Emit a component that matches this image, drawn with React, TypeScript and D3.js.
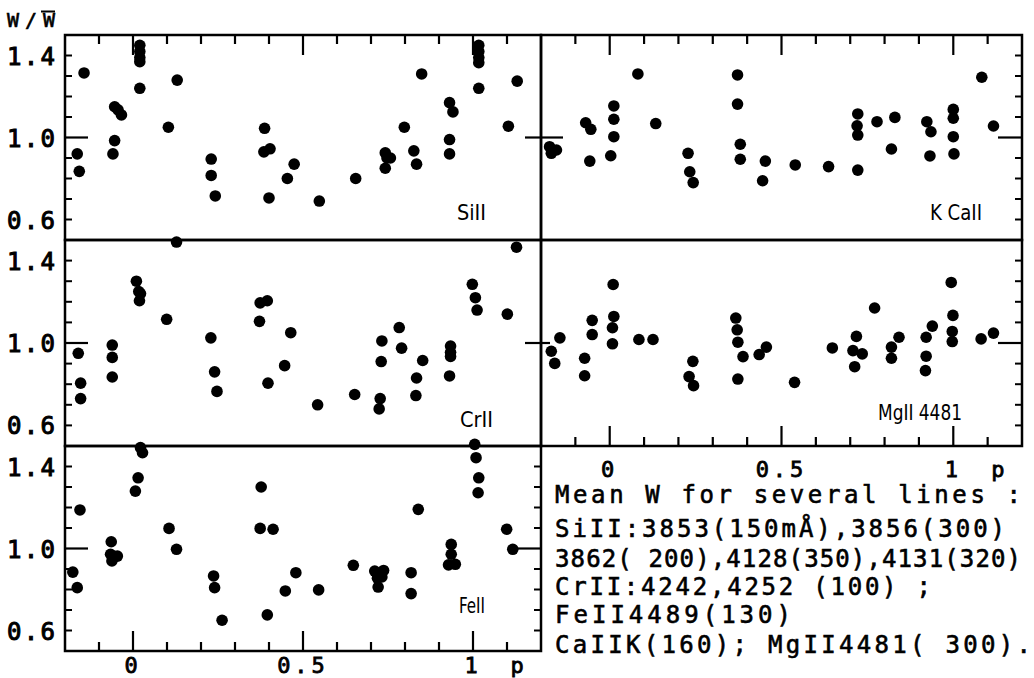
import { useEffect, useRef } from 'react';
import * as d3 from 'd3';

type Pt = [number, number];

// [phase, W / mean W]
const siII: Pt[] = [
  [-0.164, 0.92], [-0.158, 0.835], [-0.144, 1.315], [-0.059, 0.92], [-0.054, 0.985],
  [-0.054, 1.15], [-0.044, 1.135], [-0.034, 1.11], [0.02, 1.45], [0.02, 1.42],
  [0.02, 1.39], [0.02, 1.37], [0.02, 1.24], [0.104, 1.05], [0.13, 1.28],
  [0.23, 0.895], [0.23, 0.815], [0.242, 0.715], [0.387, 1.045], [0.385, 0.93],
  [0.403, 0.945], [0.4, 0.705], [0.454, 0.8], [0.474, 0.87], [0.548, 0.69],
  [0.655, 0.8], [0.742, 0.925], [0.747, 0.9], [0.742, 0.85], [0.757, 0.9],
  [0.798, 1.05], [0.826, 0.935], [0.834, 0.87], [0.849, 1.31], [0.931, 1.17],
  [0.941, 1.125], [0.931, 0.99], [0.931, 0.92], [1.017, 1.45], [1.017, 1.42],
  [1.017, 1.39], [1.017, 1.365], [1.017, 1.24], [1.104, 1.055], [1.13, 1.275],
];

const caIIK: Pt[] = [
  [-0.175, 0.955], [-0.17, 0.923], [-0.155, 0.939], [-0.07, 1.072], [-0.055, 1.04],
  [-0.058, 0.885], [0.012, 1.154], [0.012, 1.089], [0.012, 1.004], [0.003, 0.911],
  [0.082, 1.31], [0.134, 1.068], [0.228, 0.923], [0.233, 0.833], [0.243, 0.78],
  [0.372, 1.305], [0.372, 1.163], [0.38, 0.967], [0.38, 0.894], [0.453, 0.885],
  [0.445, 0.789], [0.54, 0.866], [0.637, 0.858], [0.722, 1.115], [0.72, 1.057],
  [0.722, 1.012], [0.722, 0.841], [0.778, 1.077], [0.83, 1.098], [0.82, 0.944],
  [0.923, 1.077], [0.935, 1.028], [0.932, 0.91], [1.0, 1.137], [1.0, 1.094],
  [1.0, 1.004], [1.002, 0.92], [1.083, 1.294], [1.117, 1.056],
];

const crII: Pt[] = [
  [-0.161, 0.95], [-0.154, 0.805], [-0.154, 0.73], [-0.061, 0.99], [-0.061, 0.93],
  [-0.061, 0.835], [0.01, 1.3], [0.017, 1.25], [0.022, 1.24], [0.019, 1.205],
  [0.128, 1.49], [0.099, 1.115], [0.229, 1.025], [0.24, 0.86], [0.247, 0.765],
  [0.374, 1.195], [0.395, 1.205], [0.372, 1.105], [0.397, 0.805], [0.446, 0.89],
  [0.464, 1.05], [0.543, 0.7], [0.652, 0.75], [0.732, 1.01], [0.73, 0.91],
  [0.727, 0.73], [0.724, 0.68], [0.783, 1.075], [0.79, 0.975], [0.834, 0.83],
  [0.832, 0.745], [0.852, 0.915], [0.934, 0.985], [0.934, 0.955], [0.934, 0.935],
  [0.931, 0.84], [0.998, 1.285], [1.007, 1.22], [1.012, 1.16], [1.101, 1.14],
  [1.128, 1.465],
];

const mgII: Pt[] = [
  [-0.17, 0.96], [-0.16, 0.901], [-0.145, 1.025], [-0.073, 0.926], [-0.073, 0.841],
  [-0.051, 1.11], [-0.051, 1.041], [0.01, 1.284], [0.012, 1.129], [0.008, 1.074],
  [0.008, 0.996], [0.085, 1.017], [0.126, 1.017], [0.242, 0.911], [0.231, 0.837],
  [0.244, 0.793], [0.367, 1.121], [0.371, 1.064], [0.373, 1.004], [0.388, 0.934],
  [0.373, 0.825], [0.435, 0.944], [0.456, 0.98], [0.538, 0.809], [0.648, 0.976],
  [0.718, 1.032], [0.708, 0.963], [0.735, 0.947], [0.713, 0.885], [0.771, 1.17],
  [0.82, 0.98], [0.82, 0.926], [0.842, 1.028], [0.921, 1.028], [0.921, 0.936],
  [0.919, 0.866], [0.939, 1.082], [0.994, 1.294], [0.999, 1.134], [0.997, 1.056],
  [0.997, 1.007], [1.081, 1.02], [1.117, 1.048],
];

const feII: Pt[] = [
  [-0.177, 0.885], [-0.164, 0.809], [-0.156, 1.188], [-0.064, 1.033], [-0.066, 0.972],
  [-0.062, 0.939], [-0.046, 0.963], [0.022, 1.492], [0.028, 1.467], [0.015, 1.345],
  [0.007, 1.28], [0.106, 1.098], [0.128, 0.996], [0.237, 0.866], [0.24, 0.809],
  [0.262, 0.65], [0.377, 1.3], [0.374, 1.098], [0.412, 1.094], [0.395, 0.676],
  [0.448, 0.793], [0.479, 0.882], [0.546, 0.798], [0.648, 0.918], [0.711, 0.89],
  [0.737, 0.893], [0.719, 0.855], [0.721, 0.812], [0.732, 0.861], [0.818, 0.882],
  [0.818, 0.78], [0.839, 1.191], [0.936, 1.02], [0.936, 0.972], [0.928, 0.92],
  [0.948, 0.923], [1.005, 1.508], [1.009, 1.443], [1.017, 1.345], [1.015, 1.272],
  [1.099, 1.094], [1.117, 0.996],
];

const yLabelTicks = [1.4, 1.0, 0.6];
const yMinorTicks = [0.6, 0.7, 0.8, 0.9, 1.1, 1.2, 1.3, 1.4];
const xMinorTicks = [-0.1, 0, 0.1, 0.2, 0.3, 0.4, 0.5, 0.6, 0.7, 0.8, 0.9, 1.0, 1.1];
const xMajorTicks = [0, 0.5, 1];
const xTickLabels = ['0', '0.5', '1'];

const noteLines = [
  'Mean W for several lines :',
  'SiII:3853(150mÅ),3856(300)',
  '3862( 200),4128(350),4131(320)',
  'CrII:4242,4252 (100) ;',
  'FeII4489(130)',
  'CaIIK(160); MgII4481( 300).',
];

const W = 1034;
const H = 678;
const cols = [[65, 541], [541, 1022]];
const rows = [[35, 240], [240, 446], [446, 651]];
const mono = '"DejaVu Sans Mono", "Liberation Mono", monospace';
const narrow = '"Liberation Sans Narrow", "DejaVu Sans Condensed", Roboto, sans-serif';

const panels = [
  { name: 'SiII', points: siII, col: 0, row: 0, lab: { dx: 55, dy: 20, w: 29 } },
  { name: 'K CaII', points: caIIK, col: 1, row: 0, lab: { dx: 40, dy: 20, w: 52 } },
  { name: 'CrII', points: crII, col: 0, row: 1, lab: { dx: 48, dy: 19, w: 33 } },
  { name: 'MgII 4481', points: mgII, col: 1, row: 1, lab: { dx: 60, dy: 26, w: 84 } },
  { name: 'FeII', points: feII, col: 0, row: 2, lab: { dx: 56, dy: 38, w: 26 } },
];

function App() {
  const svgRef = useRef<SVGSVGElement>(null);

  useEffect(() => {
    const svg = d3.select(svgRef.current);
    svg.selectAll('*').remove();

    svg.append('rect').attr('width', W).attr('height', H).attr('fill', '#fff');

    const g = svg.append('g');

    panels.forEach(p => {
      const [x0, x1] = cols[p.col];
      const [y0, y1] = rows[p.row];
      const x = d3.scaleLinear().domain([-0.2, 1.2]).range([x0, x1]);
      const y = d3.scaleLinear().domain([0.5, 1.5]).range([y1, y0]);
      const isBottom = (p.col === 0 && p.row === 2) || (p.col === 1 && p.row === 1);

      const pg = g.append('g');

      pg.append('rect')
        .attr('x', x0).attr('y', y0)
        .attr('width', x1 - x0).attr('height', y1 - y0)
        .attr('fill', 'none')
        .attr('stroke', '#000')
        .attr('stroke-width', 2.5);

      // x ticks along the top of the first row and the bottom of each column
      const xTickEdge = (edgeY: number, dir: number) => {
        pg.selectAll(null)
          .data(xMinorTicks)
          .join('line')
          .attr('x1', d => x(d)).attr('x2', d => x(d))
          .attr('y1', edgeY)
          .attr('y2', d => edgeY + dir * (xMajorTicks.some(m => Math.abs(m - d) < 1e-6) ? 20 : 9))
          .attr('stroke', '#000')
          .attr('stroke-width', 2.2);
      };
      if (p.row === 0) xTickEdge(y0, 1);
      if (isBottom) xTickEdge(y1, -1);

      // y ticks
      const yTickEdge = (edgeX: number, dir: number, major: number) => {
        pg.selectAll(null)
          .data(yMinorTicks)
          .join('line')
          .attr('x1', edgeX).attr('x2', edgeX + dir * 7)
          .attr('y1', d => y(d)).attr('y2', d => y(d))
          .attr('stroke', '#000')
          .attr('stroke-width', 2);
        pg.append('line')
          .attr('x1', edgeX).attr('x2', edgeX + dir * major)
          .attr('y1', y(1)).attr('y2', y(1))
          .attr('stroke', '#000')
          .attr('stroke-width', 2.2);
      };
      if (p.col === 0) yTickEdge(x0, 1, 23);
      if (p.col === 1) yTickEdge(x1, -1, 24);
      if (p.col === 0 && p.row === 2) yTickEdge(x1, -1, 28);
      if (p.col === 0 && p.row < 2) {
        pg.append('line')
          .attr('x1', x1 - 16).attr('x2', x1)
          .attr('y1', y(1)).attr('y2', y(1))
          .attr('stroke', '#000').attr('stroke-width', 2.2);
      }
      if (p.col === 1) {
        pg.append('line')
          .attr('x1', x0).attr('x2', x0 + (p.row === 0 ? 22 : 9))
          .attr('y1', y(1)).attr('y2', y(1))
          .attr('stroke', '#000').attr('stroke-width', 2.2);
      }

      // y tick labels on the left column
      if (p.col === 0) {
        pg.selectAll(null)
          .data(yLabelTicks)
          .join('text')
          .attr('x', 7)
          .attr('y', d => y(d) + 9)
          .attr('font-family', mono)
          .attr('font-size', 24)
          .attr('textLength', 48)
          .attr('lengthAdjust', 'spacing')
          .attr('fill', '#000')
          .attr('stroke', '#000')
          .attr('stroke-width', 1)
          .text(d => d.toFixed(1));
      }

      // x tick labels under each column
      if (isBottom) {
        const base = y1 + (p.col === 0 ? 22 : 31);
        pg.selectAll(null)
          .data(xMajorTicks)
          .join('text')
          .attr('x', d => x(d))
          .attr('y', base)
          .attr('text-anchor', 'middle')
          .attr('font-family', mono)
          .attr('font-size', 22)
          .attr('fill', '#000')
          .attr('stroke', '#000')
          .attr('stroke-width', 0.8)
          .attr('letter-spacing', 4)
          .text((d, i) => xTickLabels[i]);
        pg.append('text')
          .attr('x', x(1.13))
          .attr('y', base)
          .attr('text-anchor', 'middle')
          .attr('font-family', mono)
          .attr('font-size', 22)
          .attr('fill', '#000')
          .attr('stroke', '#000')
          .attr('stroke-width', 0.8)
          .text('p');
      }

      // panel label
      pg.append('text')
        .attr('x', x1 - p.lab.dx - p.lab.w)
        .attr('y', y1 - p.lab.dy)
        .attr('font-family', narrow)
        .attr('font-size', 22)
        .attr('textLength', p.lab.w)
        .attr('lengthAdjust', 'spacingAndGlyphs')
        .attr('fill', '#000')
        .text(p.name);

      // points
      pg.selectAll('circle')
        .data(p.points)
        .join('circle')
        .attr('cx', d => x(d[0]))
        .attr('cy', d => y(d[1]))
        .attr('r', 5.8)
        .attr('fill', '#000');
    });

    // axis title W / W-bar
    g.append('text')
      .attr('x', 7)
      .attr('y', 27)
      .attr('font-family', mono)
      .attr('font-size', 20)
      .attr('textLength', 48)
      .attr('lengthAdjust', 'spacing')
      .attr('fill', '#000')
      .attr('stroke', '#000')
      .attr('stroke-width', 0.6)
      .text('W/W');
    g.append('line')
      .attr('x1', 41).attr('x2', 55)
      .attr('y1', 11.5).attr('y2', 11.5)
      .attr('stroke', '#000').attr('stroke-width', 2);

    // notes block
    const noteBase = [503, 537, 567, 595, 623, 653];
    const noteWidth = [466, 450, 466, 376, 236, 476];
    g.selectAll('.note')
      .data(noteLines)
      .join('text')
      .attr('class', 'note')
      .attr('x', 555)
      .attr('y', (d, i) => noteBase[i])
      .attr('font-family', mono)
      .attr('font-size', 24)
      .attr('textLength', (d, i) => noteWidth[i])
      .attr('lengthAdjust', 'spacing')
      .attr('fill', '#000')
      .attr('stroke', '#000')
      .attr('stroke-width', 0.6)
      .text(d => d);
  }, []);

  return (
    <div style={{ position: 'absolute', left: 0, top: 0 }}>
      <svg ref={svgRef} width={W} height={H} style={{ display: 'block' }}></svg>
    </div>
  );
}

export default App;
